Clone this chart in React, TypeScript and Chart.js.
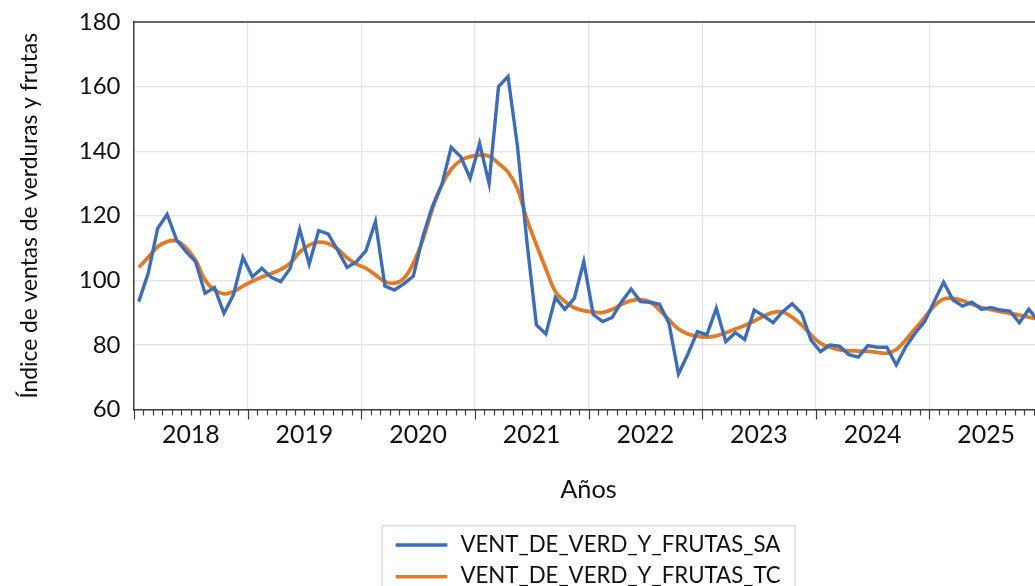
import React, { useEffect, useRef } from 'react';
import { Chart, registerables } from 'chart.js';

Chart.register(...registerables);

// ---------- data ----------
const YEAR_LABELS = ['2018', '2019', '2020', '2021', '2022', '2023', '2024', '2025'];
const Y_TICKS = [60, 80, 100, 120, 140, 160, 180];
const SERIES_SA_NAME = 'VENT_DE_VERD_Y_FRUTAS_SA';
const SERIES_TC_NAME = 'VENT_DE_VERD_Y_FRUTAS_TC';
const Y_TITLE = 'Índice de ventas de verduras y frutas';
const X_TITLE = 'Años';

const SA_2018 = [93.4, 102.2, 116.1, 120.4, 112.5, 108.9, 105.8, 96.0, 97.8, 89.8, 95.5, 107.1];
const SA_2019 = [101.1, 103.7, 100.9, 99.6, 103.7, 115.8, 105.0, 115.4, 114.4, 109.4, 104.0, 105.8];
const SA_2020 = [109.2, 118.2, 98.2, 97.0, 98.9, 101.3, 113.5, 122.8, 129.5, 141.2, 138.3, 131.6];
const SA_2021 = [142.4, 130.0, 160.0, 163.1, 141.5, 111.8, 86.2, 83.4, 94.7, 91.0, 94.4, 105.8];
const SA_2022 = [89.4, 87.2, 88.5, 93.4, 97.3, 93.4, 93.2, 92.6, 86.7, 71.0, 77.2, 84.1];
const SA_2023 = [83.1, 91.3, 81.0, 83.8, 81.7, 90.8, 89.0, 86.9, 90.3, 92.7, 89.8, 81.5];
const SA_2024 = [77.9, 80.0, 79.6, 77.0, 76.2, 79.8, 79.3, 79.3, 73.8, 79.4, 83.6, 87.2];
const SA_2025 = [93.4, 99.4, 93.9, 92.0, 93.2, 91.0, 91.6, 90.8, 90.5, 86.9, 91.0, 87.5];

const TC_2018 = [104.0, 107.1, 110.4, 112.0, 112.2, 110.1, 106.2, 100.1, 97.0, 95.8, 96.5, 98.2];
const TC_2019 = [99.7, 101.0, 102.1, 103.4, 105.3, 108.7, 110.9, 111.8, 111.4, 109.7, 107.0, 105.0];
const TC_2020 = [103.7, 101.7, 99.6, 99.1, 100.6, 105.3, 112.5, 122.0, 129.5, 134.4, 137.1, 138.3];
const TC_2021 = [138.8, 138.4, 136.2, 133.5, 128.3, 118.8, 111.0, 103.5, 96.5, 93.5, 91.5, 90.6];
const TC_2022 = [90.2, 90.0, 91.0, 92.6, 93.7, 94.0, 93.3, 90.8, 87.8, 84.9, 83.4, 82.7];
const TC_2023 = [82.4, 82.8, 83.8, 84.9, 86.0, 87.4, 88.9, 90.1, 90.2, 88.6, 86.2, 83.1];
const TC_2024 = [80.5, 79.3, 78.5, 78.2, 78.1, 78.0, 77.7, 77.4, 78.6, 81.5, 85.0, 88.5];
const TC_2025 = [92.0, 94.2, 94.4, 93.7, 92.6, 91.6, 90.9, 90.3, 89.8, 89.2, 88.6, 88.0];

const SA_VALUES = [...SA_2018, ...SA_2019, ...SA_2020, ...SA_2021, ...SA_2022, ...SA_2023, ...SA_2024, ...SA_2025];
const TC_VALUES = [...TC_2018, ...TC_2019, ...TC_2020, ...TC_2021, ...TC_2022, ...TC_2023, ...TC_2024, ...TC_2025];

// ---------- style ----------
const FAMILY = "Lato, 'Open Sans', sans-serif";
const BLUE = '#3d6db5';
const ORANGE = '#e07b2c';
const GRID = '#e4e4e4';
const AXIS = '#3c3c3c';
const TEXT = '#111111';
const CANVAS_W = 1060;
const CANVAS_H = 586;
const PLOT_LEFT = 134;
const PLOT_TOP = 22;
const PLOT_BOTTOM = 409.5;
const PLOT_RIGHT = 1043;

function fitSize(text: string, width: number): number {
  const c = document.createElement('canvas').getContext('2d')!;
  c.font = `100px ${FAMILY}`;
  const w = c.measureText(text).width;
  return (100 * width) / w;
}

export default function App() {
  const ref = useRef<HTMLCanvasElement | null>(null);

  useEffect(() => {
    if (!ref.current) return;
    const sz = {
      yTick: fitSize('180', 41.7),
      xTick: fitSize('2018', 57.7),
      xTitle: fitSize(X_TITLE, 56.6),
      legend: fitSize(SERIES_SA_NAME, 320),
      yTitle: fitSize(Y_TITLE, 366),
    };
    const nMonths = YEAR_LABELS.length * 12;

    const decor = {
      id: 'decor',
      afterDraw(chart: any) {
        const { ctx, chartArea: a } = chart;
        const xs = chart.scales.x;
        ctx.save();
        // top & right border
        ctx.strokeStyle = AXIS;
        ctx.lineWidth = 1.5;
        ctx.beginPath();
        ctx.moveTo(a.left, a.top);
        ctx.lineTo(a.right, a.top);
        ctx.lineTo(a.right, a.bottom);
        ctx.stroke();
        // monthly tick marks
        ctx.lineWidth = 1.2;
        for (let m = 0; m <= nMonths; m++) {
          const x = Math.round(xs.getPixelForValue(m)) + 0.5;
          const len = m % 12 === 0 ? 10 : 6;
          ctx.beginPath();
          ctx.moveTo(x, a.bottom);
          ctx.lineTo(x, a.bottom + len);
          ctx.stroke();
        }
        const cx = (a.left + a.right) / 2;
        // x title
        ctx.fillStyle = TEXT;
        ctx.textAlign = 'center';
        ctx.textBaseline = 'alphabetic';
        ctx.font = `${sz.xTitle}px ${FAMILY}`;
        ctx.fillText(X_TITLE, cx, 498.3);
        // y title
        ctx.save();
        ctx.translate(36.7, (a.top + a.bottom) / 2);
        ctx.rotate(-Math.PI / 2);
        ctx.font = `${sz.yTitle}px ${FAMILY}`;
        ctx.fillText(Y_TITLE, 0, 0);
        ctx.restore();
        // legend
        ctx.font = `${sz.legend}px ${FAMILY}`;
        const tw = Math.max(ctx.measureText(SERIES_SA_NAME).width, ctx.measureText(SERIES_TC_NAME).width);
        const padL = 13.7, lineW = 51.7, gap = 13, padR = 14.3;
        const bw = padL + lineW + gap + tw + padR;
        const bx = cx - bw / 2;
        const by = 525.7;
        ctx.strokeStyle = '#dcdcdc';
        ctx.lineWidth = 1.5;
        ctx.strokeRect(bx, by, bw, 80);
        const rows = [
          { name: SERIES_SA_NAME, color: BLUE, ly: 545, ty: 551.7 },
          { name: SERIES_TC_NAME, color: ORANGE, ly: 576.7, ty: 583.2 },
        ];
        ctx.textAlign = 'left';
        for (const r of rows) {
          ctx.strokeStyle = r.color;
          ctx.lineWidth = 3.4;
          ctx.beginPath();
          ctx.moveTo(bx + padL, r.ly);
          ctx.lineTo(bx + padL + lineW, r.ly);
          ctx.stroke();
          ctx.fillStyle = TEXT;
          ctx.fillText(r.name, bx + padL + lineW + gap, r.ty);
        }
        ctx.restore();
      },
    };

    const chart = new Chart(ref.current, {
      type: 'line',
      data: {
        datasets: [
          {
            label: SERIES_SA_NAME,
            data: SA_VALUES.map((v, i) => ({ x: i + 0.5, y: v })),
            borderColor: BLUE,
            borderWidth: 3.4,
            pointRadius: 0,
            tension: 0,
            borderJoinStyle: 'miter',
          },
          {
            label: SERIES_TC_NAME,
            data: TC_VALUES.map((v, i) => ({ x: i + 0.5, y: v })),
            borderColor: ORANGE,
            borderWidth: 3.8,
            pointRadius: 0,
            tension: 0.4,
          },
        ],
      },
      options: {
        responsive: false,
        animation: false,
        devicePixelRatio: 1,
        layout: { padding: { left: 0, top: PLOT_TOP, right: CANVAS_W - PLOT_RIGHT, bottom: 0 } },
        plugins: { legend: { display: false }, tooltip: { enabled: false }, title: { display: false } },
        scales: {
          x: {
            type: 'linear',
            min: 0,
            max: nMonths,
            afterBuildTicks: (s: any) => {
              const t = [];
              for (let v = 0; v <= nMonths; v += 6) t.push({ value: v });
              s.ticks = t;
            },
            afterFit: (s: any) => {
              s.height = CANVAS_H - PLOT_BOTTOM;
              s.paddingLeft = 0;
              s.paddingRight = 0;
            },
            grid: {
              drawTicks: false,
              lineWidth: 1.2,
              color: (c: any) => (c.tick && c.tick.value % 12 === 0 ? GRID : 'rgba(0,0,0,0)'),
            },
            border: { display: true, color: AXIS, width: 1.5 },
            ticks: {
              autoSkip: false,
              maxRotation: 0,
              minRotation: 0,
              padding: 10.5,
              color: TEXT,
              font: { family: FAMILY, size: sz.xTick },
              callback: (v: any) => (v % 12 === 6 ? YEAR_LABELS[(v - 6) / 12] : ''),
            },
          },
          y: {
            min: Y_TICKS[0],
            max: Y_TICKS[Y_TICKS.length - 1],
            afterBuildTicks: (s: any) => {
              s.ticks = Y_TICKS.map((v) => ({ value: v }));
            },
            afterFit: (s: any) => {
              s.width = PLOT_LEFT;
              s.paddingTop = 0;
              s.paddingBottom = 0;
            },
            grid: { drawTicks: false, color: GRID, lineWidth: 1.2 },
            border: { display: true, color: AXIS, width: 1.5 },
            ticks: {
              padding: 13.5,
              color: TEXT,
              font: { family: FAMILY, size: sz.yTick },
            },
          },
        },
      },
      plugins: [decor],
    } as any);
    return () => chart.destroy();
  }, []);

  return (
    <div style={{ position: 'absolute', left: 0, top: 0, width: 1035, height: 586, overflow: 'hidden', background: '#fff' }}>
      <canvas ref={ref} width={CANVAS_W} height={CANVAS_H} style={{ width: CANVAS_W, height: CANVAS_H, display: 'block' }} />
    </div>
  );
}
